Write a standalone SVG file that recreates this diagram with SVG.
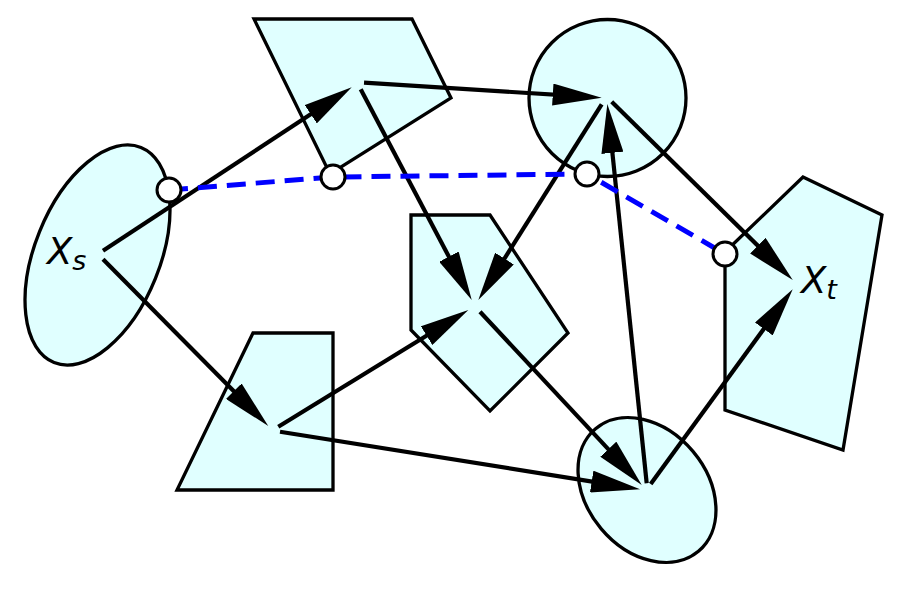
<svg xmlns="http://www.w3.org/2000/svg" width="912" height="589" viewBox="0 0 912 589">
<style>
.node{fill:#e0ffff;stroke:#000;stroke-width:3.3;stroke-linejoin:miter}
.edge{stroke:#000;stroke-width:4.2;fill:none;marker-end:url(#ah)}
.path{stroke:#0000ff;stroke-width:5;fill:none;stroke-dasharray:19 10}
.pt{fill:#fff;stroke:#000;stroke-width:3}
.lbl{font-family:"DejaVu Sans",sans-serif;font-style:italic;font-size:37px;fill:#000}
</style>
<defs>
<marker id="ah" markerUnits="userSpaceOnUse" markerWidth="49" markerHeight="22" refX="29" refY="11" orient="auto" viewBox="0 0 49 22">
<path d="M0,0 L49,11 L0,22 z" fill="#000"/>
</marker>
</defs>
<rect width="912" height="589" fill="#fff"/>
<g id="Xs"><ellipse class="node" cx="97.5" cy="255" rx="62.5" ry="116" transform="rotate(22 97.5 255)"/>
<text class="lbl" x="47" y="264">X<tspan font-size="27" dy="6">s</tspan></text></g>
<g id="A"><polygon class="node" points="254,19 412,19 451,98 330,174"/></g>
<g id="B"><circle class="node" cx="607.5" cy="98" r="78.5"/></g>
<g id="C"><polygon class="node" points="411,215 490,215 568,333 490,411 411,330"/></g>
<g id="D"><polygon class="node" points="253,333 333,333 333,490 177,490"/></g>
<g id="E"><ellipse class="node" cx="647" cy="490" rx="80" ry="60" transform="rotate(50 647 490)"/></g>
<g id="Xt"><polygon class="node" points="803,177 882,215 843,450 725,410 725,252"/>
<text class="lbl" x="801" y="293">X<tspan font-size="27" dy="6">t</tspan></text></g>
<g id="connectors">
<line class="edge" x1="103" y1="250.7" x2="335.0" y2="98.3"/>
<line class="edge" x1="103" y1="259.3" x2="254.2" y2="411.8"/>
<line class="edge" x1="364" y1="82.7" x2="581.7" y2="96.4"/>
<line class="edge" x1="360.7" y1="89.3" x2="462.4" y2="282.3"/>
<line class="edge" x1="601.7" y1="104.3" x2="489.0" y2="283.1"/>
<line class="edge" x1="611.7" y1="101.7" x2="778.5" y2="266.0"/>
<line class="edge" x1="278.3" y1="426.7" x2="451.3" y2="320.5"/>
<line class="edge" x1="280" y1="431.7" x2="620.3" y2="486.1"/>
<line class="edge" x1="480" y1="311.7" x2="628.1" y2="470.4"/>
<line class="edge" x1="646.7" y1="483.3" x2="609.4" y2="123.9"/>
<line class="edge" x1="650.7" y1="484" x2="780.9" y2="305.5"/>
</g>
<g id="pathline">
<polyline class="path" points="169,190 333,177 587,174 725,254"/>
<circle class="pt" cx="169" cy="190" r="12"/>
<circle class="pt" cx="333" cy="177" r="12"/>
<circle class="pt" cx="587" cy="174" r="12"/>
<circle class="pt" cx="725" cy="254" r="12"/>
</g>
</svg>
